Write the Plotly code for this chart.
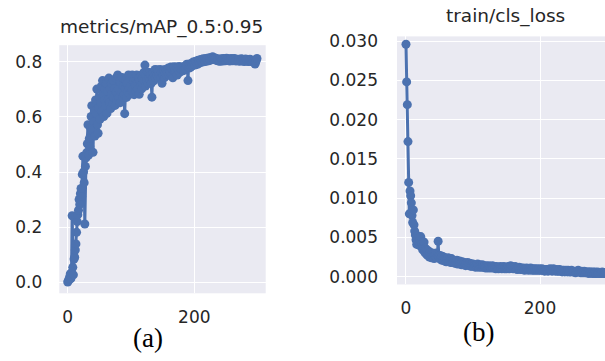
import plotly.graph_objects as go

epochs = list(range(300))

map_values = [
    0.002, 0.006, 0.012, 0.020, 0.031, 0.014, 0.036, 0.242, 0.055, 0.028,
    0.085, 0.092, 0.118, 0.140, 0.182, 0.221, 0.246, 0.262, 0.301, 0.283,
    0.322, 0.341, 0.312, 0.392, 0.458, 0.401, 0.362, 0.212, 0.421, 0.452,
    0.471, 0.503, 0.572, 0.462, 0.521, 0.493, 0.561, 0.602, 0.641, 0.553,
    0.472, 0.583, 0.622, 0.531, 0.662, 0.612, 0.701, 0.572, 0.541, 0.633,
    0.671, 0.592, 0.652, 0.711, 0.621, 0.732, 0.683, 0.602, 0.661, 0.702,
    0.642, 0.721, 0.613, 0.693, 0.662, 0.741, 0.652, 0.703, 0.631, 0.722,
    0.683, 0.651, 0.732, 0.671, 0.702, 0.642, 0.741, 0.692, 0.662, 0.752,
    0.703, 0.671, 0.731, 0.652, 0.722, 0.691, 0.743, 0.672, 0.712, 0.681,
    0.612, 0.702, 0.733, 0.671, 0.722, 0.691, 0.752, 0.703, 0.682, 0.741,
    0.712, 0.693, 0.752, 0.701, 0.731, 0.681, 0.742, 0.713, 0.692, 0.752,
    0.722, 0.701, 0.741, 0.682, 0.733, 0.712, 0.751, 0.702, 0.742, 0.722,
    0.761, 0.731, 0.788, 0.712, 0.752, 0.731, 0.762, 0.722, 0.743, 0.761,
    0.732, 0.751, 0.722, 0.672, 0.743, 0.762, 0.731, 0.751, 0.772, 0.742,
    0.761, 0.752, 0.771, 0.741, 0.763, 0.752, 0.772, 0.743, 0.761, 0.722,
    0.762, 0.751, 0.771, 0.743, 0.762, 0.772, 0.751, 0.768, 0.761, 0.778,
    0.752, 0.771, 0.762, 0.781, 0.752, 0.773, 0.742, 0.771, 0.782, 0.761,
    0.773, 0.762, 0.781, 0.752, 0.778, 0.771, 0.783, 0.762, 0.779, 0.772,
    0.781, 0.772, 0.779, 0.768, 0.783, 0.772, 0.781, 0.776, 0.791, 0.782,
    0.732, 0.781, 0.792, 0.778, 0.788, 0.782, 0.795, 0.786, 0.799, 0.791,
    0.795, 0.788, 0.802, 0.793, 0.798, 0.791, 0.806, 0.798, 0.803, 0.796,
    0.808, 0.801, 0.806, 0.799, 0.811, 0.803, 0.808, 0.801, 0.812, 0.806,
    0.809, 0.803, 0.814, 0.806, 0.811, 0.805, 0.816, 0.808, 0.812, 0.818,
    0.812, 0.809, 0.815, 0.807, 0.812, 0.806, 0.811, 0.804, 0.809, 0.803,
    0.808, 0.802, 0.811, 0.805, 0.809, 0.803, 0.812, 0.806, 0.810, 0.804,
    0.809, 0.813, 0.807, 0.811, 0.805, 0.809, 0.803, 0.808, 0.812, 0.806,
    0.810, 0.804, 0.809, 0.812, 0.806, 0.810, 0.803, 0.808, 0.805, 0.809,
    0.804, 0.808, 0.802, 0.807, 0.811, 0.805, 0.809, 0.803, 0.807, 0.801,
    0.806, 0.810, 0.804, 0.808, 0.802, 0.806, 0.801, 0.805, 0.809, 0.803,
    0.807, 0.801, 0.805, 0.799, 0.804, 0.797, 0.792, 0.799, 0.806, 0.812,
]

cls_loss = [
    0.0296, 0.0248, 0.0219, 0.0172, 0.0120, 0.0080, 0.0109, 0.0103, 0.0094, 0.0078,
    0.0069, 0.0085, 0.0066, 0.0058, 0.0053, 0.0047, 0.0041, 0.0052, 0.0045, 0.0049,
    0.0040, 0.0046, 0.0051, 0.0038, 0.0042, 0.0034, 0.0039, 0.0044, 0.0031, 0.0036,
    0.0029, 0.0034, 0.0027, 0.0033, 0.0029, 0.0025, 0.0031, 0.0028, 0.0024, 0.0030,
    0.0026, 0.0029, 0.0023, 0.0027, 0.0025, 0.0030, 0.0024, 0.0028, 0.0045, 0.0026,
    0.0023, 0.0027, 0.0024, 0.0021, 0.0026, 0.0022, 0.0025, 0.0020, 0.0024, 0.0022,
    0.0019, 0.0023, 0.0021, 0.0024, 0.0019, 0.0022, 0.0020, 0.0018, 0.0023, 0.0021,
    0.0018, 0.0021, 0.0019, 0.0017, 0.0020, 0.0018, 0.0021, 0.0016, 0.0019, 0.0017,
    0.0020, 0.0016, 0.0018, 0.0015, 0.0019, 0.0017, 0.0015, 0.0018, 0.0016, 0.0014,
    0.0017, 0.0015, 0.0018, 0.0016, 0.0014, 0.0017, 0.0015, 0.0013, 0.0016, 0.0014,
    0.0016, 0.0013, 0.0015, 0.0014, 0.0012, 0.0015, 0.0013, 0.0016, 0.0014, 0.0012,
    0.0015, 0.0013, 0.0014, 0.0012, 0.0015, 0.0013, 0.0012, 0.0014, 0.0013, 0.0011,
    0.0014, 0.0012, 0.0013, 0.0011, 0.0014, 0.0012, 0.0013, 0.0011, 0.0012, 0.0014,
    0.0012, 0.0011, 0.0013, 0.0012, 0.0010, 0.0013, 0.0011, 0.0012, 0.0010, 0.0012,
    0.0011, 0.0013, 0.0011, 0.0010, 0.0012, 0.0011, 0.0013, 0.0010, 0.0012, 0.0011,
    0.0010, 0.0012, 0.0011, 0.0013, 0.0010, 0.0012, 0.0014, 0.0011, 0.0013, 0.0012,
    0.0010, 0.0012, 0.0011, 0.0013, 0.0010, 0.0011, 0.0009, 0.0011, 0.0010, 0.0012,
    0.0010, 0.0009, 0.0011, 0.0010, 0.0009, 0.0011, 0.0010, 0.0008, 0.0010, 0.0009,
    0.0011, 0.0009, 0.0010, 0.0008, 0.0010, 0.0009, 0.0011, 0.0009, 0.0008, 0.0010,
    0.0009, 0.0008, 0.0010, 0.0009, 0.0008, 0.0010, 0.0009, 0.0008, 0.0009, 0.0010,
    0.0008, 0.0009, 0.0008, 0.0010, 0.0009, 0.0008, 0.0009, 0.0007, 0.0009, 0.0008,
    0.0009, 0.0008, 0.0007, 0.0009, 0.0008, 0.0010, 0.0008, 0.0009, 0.0007, 0.0008,
    0.0010, 0.0008, 0.0009, 0.0007, 0.0008, 0.0009, 0.0007, 0.0008, 0.0007, 0.0009,
    0.0008, 0.0007, 0.0008, 0.0006, 0.0008, 0.0007, 0.0008, 0.0006, 0.0007, 0.0008,
    0.0007, 0.0006, 0.0008, 0.0007, 0.0006, 0.0007, 0.0006, 0.0008, 0.0007, 0.0006,
    0.0007, 0.0006, 0.0007, 0.0005, 0.0007, 0.0006, 0.0007, 0.0008, 0.0006, 0.0007,
    0.0006, 0.0005, 0.0007, 0.0006, 0.0005, 0.0006, 0.0007, 0.0005, 0.0006, 0.0005,
    0.0006, 0.0005, 0.0006, 0.0004, 0.0006, 0.0005, 0.0006, 0.0005, 0.0004, 0.0006,
    0.0005, 0.0004, 0.0006, 0.0005, 0.0004, 0.0005, 0.0006, 0.0004, 0.0005, 0.0004,
    0.0005, 0.0004, 0.0005, 0.0006, 0.0004, 0.0005, 0.0004, 0.0005, 0.0004, 0.0005,
]

titles = ["metrics/mAP_0.5:0.95", "train/cls_loss"]
panel_labels = ["(a)", "(b)"]
x_ticks = [0, 200]
map_ticks = [0.0, 0.2, 0.4, 0.6, 0.8]
loss_ticks = [0.000, 0.005, 0.010, 0.015, 0.020, 0.025, 0.030]

W, H = 605, 361
BLUE = "#4C72B0"
BG = "#EAEAF2"
TXT = "#262626"
SANS = "DejaVu Sans"
SERIF = "Liberation Serif"

def px(x):
    return x / W

def py(y):
    return 1 - y / H

fig = go.Figure()
fig.add_trace(go.Scatter(x=epochs, y=map_values, mode="lines+markers",
                         line=dict(color=BLUE, width=3),
                         marker=dict(color=BLUE, size=9),
                         xaxis="x", yaxis="y", showlegend=False))
fig.add_trace(go.Scatter(x=epochs, y=cls_loss, mode="lines+markers",
                         line=dict(color=BLUE, width=3),
                         marker=dict(color=BLUE, size=9),
                         xaxis="x2", yaxis="y2", showlegend=False))

axis_common = dict(showgrid=True, gridcolor="white", gridwidth=1.3,
                   zeroline=False, showline=False, ticks="",
                   tickfont=dict(family=SANS, size=17, color=TXT))

fig.update_layout(
    width=W, height=H,
    margin=dict(l=0, r=0, t=0, b=0),
    paper_bgcolor="white",
    plot_bgcolor=BG,
    xaxis=dict(domain=[px(59.3), px(265.7)], range=[-13.3, 312.8],
               tickvals=x_ticks, ticklabelstandoff=12, anchor="y", **axis_common),
    yaxis=dict(domain=[py(294), py(41)], range=[-0.039, 0.8602],
               tickvals=map_ticks, tickformat=".1f", ticklabelstandoff=16,
               anchor="x", **axis_common),
    xaxis2=dict(domain=[px(397), 1.0], range=[-13.4, 297.0],
                tickvals=x_ticks, ticklabelstandoff=12, anchor="y2", **axis_common),
    yaxis2=dict(domain=[py(285), py(32)], range=[-0.001, 0.0306],
                tickvals=loss_ticks, tickformat=".3f", ticklabelstandoff=18,
                anchor="x2", **axis_common),
    annotations=[
        dict(text=titles[0], x=px(161), y=py(22), xref="paper", yref="paper",
             showarrow=False, xanchor="center", yanchor="middle",
             font=dict(family=SANS, size=18.5, color=TXT)),
        dict(text=titles[1], x=px(506), y=py(11), xref="paper", yref="paper",
             showarrow=False, xanchor="center", yanchor="middle",
             font=dict(family=SANS, size=18.5, color=TXT)),
        dict(text=panel_labels[0], x=px(148), y=py(340), xref="paper", yref="paper",
             showarrow=False, xanchor="center", yanchor="middle",
             font=dict(family=SERIF, size=27, color="black")),
        dict(text=panel_labels[1], x=px(478), y=py(333), xref="paper", yref="paper",
             showarrow=False, xanchor="center", yanchor="middle",
             font=dict(family=SERIF, size=27, color="black")),
    ],
)

fig.write_html("out.html")
